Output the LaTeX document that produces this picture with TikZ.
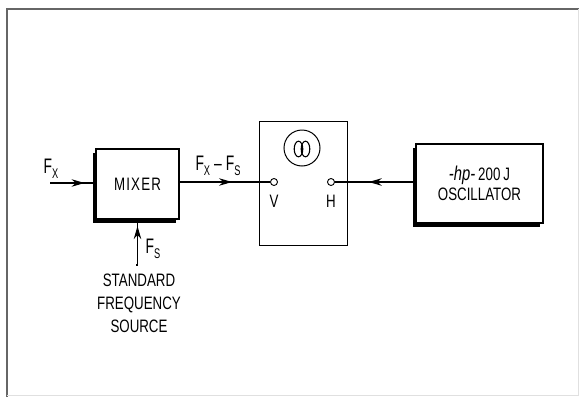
\documentclass[tikz,border=0pt]{standalone}
\usepackage{fontspec}
\setmainfont{Liberation Sans}[FakeStretch=0.74]
\newfontfamily\ffont{Liberation Sans}[FakeStretch=0.66]
\usetikzlibrary{arrows.meta,decorations.markings,shadows}
\newcommand{\Fsub}[1]{{\ffont\fontsize{21}{22}\selectfont F\raisebox{-4.5pt}{\fontsize{14}{15}\selectfont #1}}}
\begin{document}
\begin{tikzpicture}[x=1pt,y=-1pt,
  framel/.style={draw=black!60,line width=1.2pt},
  blockbox/.style={draw,line width=1.1pt,fill=white,
     drop shadow={shadow xshift=-3.5pt,shadow yshift=-3.5pt,fill=black,opacity=1}},
  plainbox/.style={draw,line width=1pt,fill=white},
  lbl/.style={font=\fontsize{18}{20}\selectfont,inner sep=0pt},
  term/.style={circle,draw,line width=0.9pt,fill=white,inner sep=0pt,minimum size=7pt},
  conn/.style={line width=1.1pt},
  midarrow/.style={postaction={decorate},decoration={markings,
     mark=at position #1 with {\arrow{Stealth[length=13pt,width=7.5pt]}}}}
]
\useasboundingbox (0,0) rectangle (579,397);
% frame
\draw[framel] (7,397) -- (7,9) -- (579,9);
\draw[draw=black!12,line width=0.6pt] (578,9) -- (578,395) -- (7,395);

% blocks
\node[blockbox,minimum width=83pt,minimum height=70pt,lbl] (mixer) at (137.5,184) {M\kern1.2pt I\kern1.2pt X\kern1.2pt E\kern1.2pt R};
\node[plainbox,minimum width=88pt,minimum height=124pt] (scope) at (303,183) {};
\node[blockbox,minimum width=127pt,minimum height=79pt,lbl,align=center] (osc) at (479.5,183.5)
   {{\fontsize{20}{20}\selectfont\textit{-hp-}}\,200\,J\\[0pt]OSCILLATOR};

% scope details
\node[circle,draw,line width=1pt,minimum size=36pt,inner sep=0pt] (disp) at (302,148) {};
\draw[line width=1.1pt] (298.5,149) ellipse [x radius=4.3pt,y radius=7.8pt];
\draw[line width=1.1pt] (305.5,149) ellipse [x radius=4.3pt,y radius=7.8pt];
\node[term] (vt) at (274,182) {};
\node[term] (ht) at (331,182) {};
\node[lbl] (vl) at (274,201) {V};
\node[lbl] (hl) at (331,201) {H};

% inputs
\coordinate (fxin) at (50,183);
\coordinate (fsin) at (136,265);
\node[inner sep=0pt] (fxl) at (51,169) {\Fsub{X}};
\node[inner sep=0pt] (fsl) at (153,249) {\Fsub{S}};
\node[inner sep=0pt] (diffl) at (218,166) {\Fsub{X}\kern4pt{\ffont\fontsize{21}{22}\selectfont\textendash}\kern4pt\Fsub{S}};
\node[lbl,align=center] (src) at (139,303)
   {STANDARD\\[3pt]FREQUENCY\\[3pt]SOURCE};

% connectors
\draw[conn,midarrow=0.76] (fxin) -- (fxin -| mixer.west);
\draw[conn,midarrow=0.86] (fsin) -- (mixer.south |- fsin) -- (mixer.south);
\draw[conn,midarrow=0.58] (mixer.east |- vt) -- (vt.west);
\draw[conn,midarrow=0.58] (osc.west |- ht) -- (ht.east);
\end{tikzpicture}
\end{document}
